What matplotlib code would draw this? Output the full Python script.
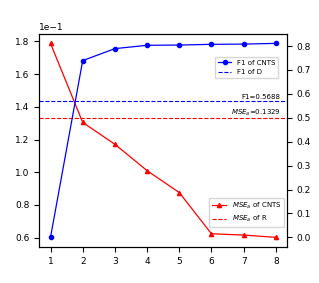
import matplotlib
matplotlib.use("Agg")
import matplotlib.pyplot as plt

# ── Data ──────────────────────────────────────────────────────────────────────
steps = [1, 2, 3, 4, 5, 6, 7, 8]
mse_cnts = [0.1788, 0.1305, 0.1171, 0.1010, 0.0876, 0.0624, 0.0616, 0.0602]
f1_cnts = [0.000, 0.739, 0.789, 0.803, 0.804, 0.807, 0.808, 0.811]
mse_r = 0.1329
f1_d = 0.5688

plt.rcParams.update({"font.size": 6.5})

fig = plt.figure(figsize=(3.19, 2.83), dpi=100)
ax = fig.add_axes([0.123, 0.127, 0.777, 0.754])
ax2 = ax.twinx()

# left axis: MSE
l1, = ax.plot(steps, mse_cnts, color="red", marker="^", markersize=3, linewidth=0.9,
              label="$MSE_a$ of CNTS")
l2 = ax.axhline(mse_r, color="red", linestyle="--", linewidth=0.8, label="$MSE_a$ of R")
ax.ticklabel_format(axis="y", style="sci", scilimits=(0, 0))
ax.set_xticks(steps)

# right axis: F1
l3, = ax2.plot(steps, f1_cnts, color="blue", marker="o", markersize=3, linewidth=0.9,
               label="F1 of CNTS")
l4 = ax2.axhline(f1_d, color="blue", linestyle="--", linewidth=0.8, label="F1 of D")

ax2.text(8.15, f1_d + 0.005, f"F1={f1_d}", ha="right", va="bottom", fontsize=5)
ax.text(8.15, mse_r + 0.0003, f"$MSE_a$={mse_r}", ha="right", va="bottom", fontsize=5)

ax2.legend(handles=[l3, l4], loc="upper right", bbox_to_anchor=(0.964, 0.891),
           borderaxespad=0, fontsize=5)
ax.legend(handles=[l1, l2], loc="lower right", bbox_to_anchor=(0.988, 0.094),
          borderaxespad=0, fontsize=5)

fig.savefig("out.png", dpi=100)
plt.close(fig)
